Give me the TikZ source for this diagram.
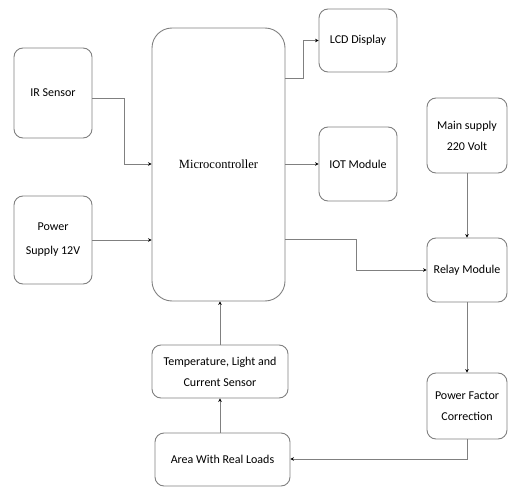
\documentclass[tikz,border=0pt]{standalone}
\usepackage{fontspec}
\setmainfont{Carlito}
\newfontfamily\serifface{Liberation Serif}
\usetikzlibrary{arrows.meta,calc}
\begin{document}
\begin{tikzpicture}[x=1pt,y=-1pt,
  blk/.style={draw=black!50,line width=0.9pt,rounded corners=9pt,align=center,font=\fontsize{12}{21}\selectfont,inner sep=0pt},
  conn/.style={draw=black!50,line width=0.8pt,-{Stealth[length=3.5pt,width=3.5pt,black]}}]
\useasboundingbox (0,0) rectangle (509,487);
\node[blk,minimum width=78,minimum height=90] (ir) at (53,93) {IR Sensor};
\node[blk,minimum width=78,minimum height=88,font=\fontsize{12}{24}\selectfont] (ps) at (53,240) {Power\\Supply 12V};
\node[blk,rounded corners=20pt,minimum width=133,minimum height=273,font=\serifface\fontsize{12.5}{14}\selectfont] (mc) at (218.5,164.5) {Microcontroller};
\node[blk,minimum width=78,minimum height=63] (lcd) at (358,40.5) {LCD Display};
\node[blk,minimum width=78,minimum height=74] (iot) at (358,164) {IOT Module};
\node[blk,minimum width=80,minimum height=75] (ms) at (467,135.5) {Main supply\\220 Volt};
\node[blk,minimum width=80,minimum height=64] (rm) at (467,270) {Relay Module};
\node[blk,minimum width=80,minimum height=66] (pfc) at (467,406) {Power Factor\\Correction};
\node[blk,minimum width=136,minimum height=53] (ts) at (220,371.5) {Temperature, Light and\\Current Sensor};
\node[blk,minimum width=135,minimum height=53] (ar) at (222.5,459.5) {Area With Real Loads};
\coordinate (irout) at ($(ir.east)+(0,5)$);
\coordinate (irin) at (mc.west |- 0,164);
\coordinate (lcdout) at (mc.east |- 0,78);
\coordinate (rmout) at (mc.east |- 0,239);
\coordinate (pfcturn) at (pfc.south |- 0,459);
\coordinate (mcbot) at (ts.north |- mc.south);
\draw[conn] (irout) -- ++(32,0) |- (irin);
\draw[conn] (ps.east) -- (mc.west |- ps.east);
\draw[conn] (lcdout) -- (303,78) |- (lcd.west);
\draw[conn] (mc.east |- iot.west) -- (iot.west);
\draw[conn] (rmout) -- (356,239) |- (rm.west);
\draw[conn] (ms.south) -- (rm.north);
\draw[conn] (rm.south) -- (pfc.north);
\draw[conn] (pfc.south) -- (pfcturn) -- (ar.east |- pfcturn);
\draw[conn] (ar.north -| ts.south) -- (ts.south);
\draw[conn] (ts.north) -- (mcbot);
\end{tikzpicture}
\end{document}
